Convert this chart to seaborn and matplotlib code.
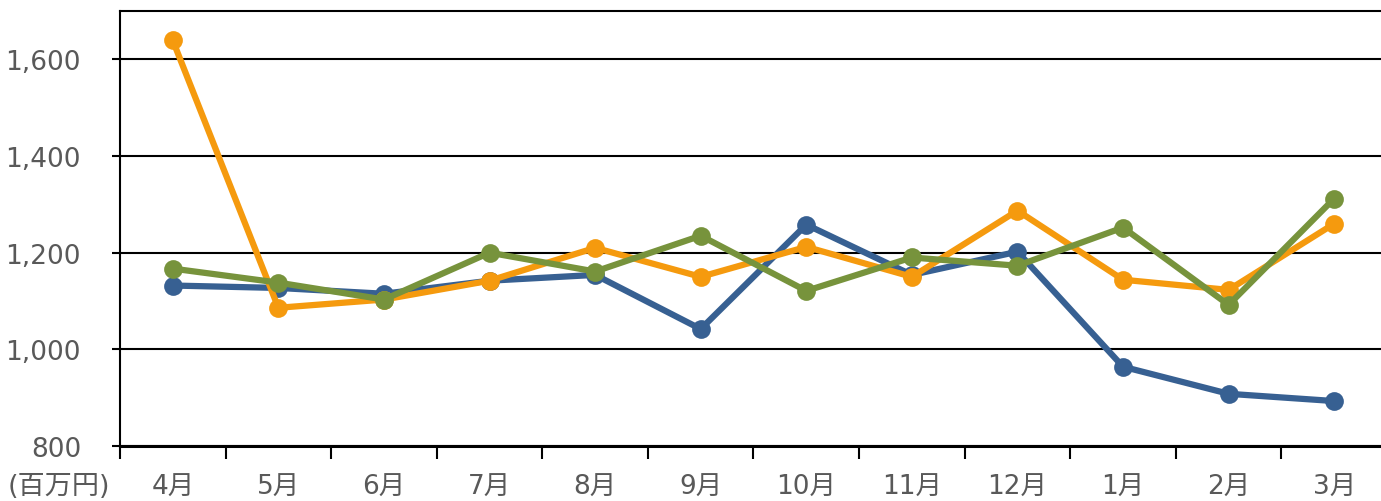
import pandas as pd
import seaborn as sns
import matplotlib.pyplot as plt
from matplotlib.ticker import FuncFormatter

months = ['4月', '5月', '6月', '7月', '8月', '9月', '10月', '11月', '12月', '1月', '2月', '3月']
series1 = [1132, 1127, 1115, 1142, 1154, 1042, 1258, 1154, 1202, 964, 908, 893]
series2 = [1639, 1086, 1103, 1142, 1210, 1150, 1212, 1150, 1287, 1144, 1123, 1260]
series3 = [1167, 1138, 1103, 1200, 1161, 1235, 1121, 1190, 1173, 1252, 1092, 1312]
names = ['系列1', '系列2', '系列3']
colors = ['#376092', '#F59A0E', '#77933C']

frames = []
for name, vals in zip(names, [series1, series2, series3]):
    frames.append(pd.DataFrame({'月': months, '金額': vals, '系列': name}))
df = pd.concat(frames)

sns.set_style('white')
plt.rcParams['font.family'] = ['DejaVu Sans', 'Noto Sans CJK JP']

fig = plt.figure(figsize=(13.81, 5.02), dpi=100)
ax = fig.add_axes([120 / 1381, 55 / 502, 1267 / 1381, 435 / 502])

sns.lineplot(data=df, x='月', y='金額', hue='系列', palette=colors, sort=False,
             marker='o', markersize=13.5, markeredgewidth=0, linewidth=4.5,
             legend=False, ax=ax)

ax.set_ylim(800, 1700)
ax.set_xlim(-0.5, 11.5)
ax.set_yticks([800, 1000, 1200, 1400, 1600])
ax.yaxis.set_major_formatter(FuncFormatter(lambda v, p: f'{int(v):,}'))
ax.set_xticks(range(len(months)))
ax.set_xticklabels(months)
ax.set_xticks([i - 0.5 for i in range(len(months) + 1)], minor=True)
ax.grid(axis='y', color='black', linewidth=1.5)
ax.set_axisbelow(True)

ax.tick_params(axis='y', which='major', length=6, width=1.5, color='black',
               pad=22, labelsize=19, labelcolor='#595959', left=True)
ax.tick_params(axis='x', which='major', length=0, pad=20, labelsize=19,
               labelcolor='#595959')
ax.tick_params(axis='x', which='minor', length=9, width=1.5, color='black',
               bottom=True, direction='out')

for side in ['left', 'bottom', 'top']:
    ax.spines[side].set_color('black')
    ax.spines[side].set_linewidth(1.5)
ax.spines['bottom'].set_linewidth(2.2)
ax.spines['right'].set_visible(False)
ax.set_xlabel('')
ax.set_ylabel('')

fig.text(8 / 1381, 1 - 487 / 502, '(百万円)', fontsize=19.5, color='#595959',
         ha='left', va='center')

fig.savefig('out.png', dpi=100)
